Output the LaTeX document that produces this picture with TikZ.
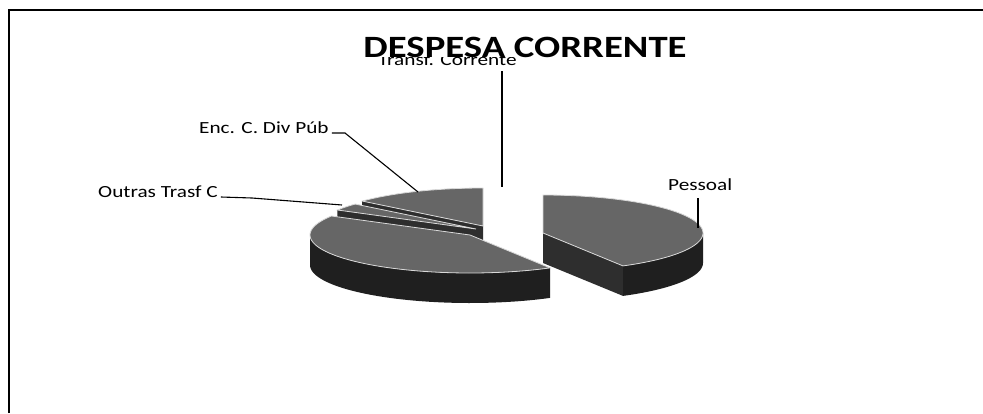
\documentclass[tikz,border=0pt]{standalone}
\usepackage{fontspec}
\setmainfont{Carlito}[FakeStretch=1.25]
\newcommand{\pieRX}{160}
\newcommand{\pieRY}{38}
\newcommand{\pieH}{30}
% top face of a slice: cx, cy, angle from, angle to, style
\newcommand{\slicetop}[5]{%
  \filldraw[#5] (#1,#2) -- plot[domain=#3:#4,samples=60] ({#1+\pieRX*cos(\x)},{#2-\pieRY*sin(\x)}) -- cycle;}
% outer wall of a slice: cx, cy, angle from, angle to, style
\newcommand{\slicewall}[5]{%
  \fill[#5] plot[domain=#3:#4,samples=60] ({#1+\pieRX*cos(\x)},{#2-\pieRY*sin(\x)})
    -- plot[domain=#4:#3,samples=60] ({#1+\pieRX*cos(\x)},{#2-\pieRY*sin(\x)+\pieH}) -- cycle;}
% radial cut face: cx, cy, angle, style
\newcommand{\slicecut}[4]{%
  \fill[#4] (#1,#2) -- ({#1+\pieRX*cos(#3)},{#2-\pieRY*sin(#3)}) -- ++(0,\pieH) -- (#1,{#2+\pieH}) -- cycle;}
\begin{document}
\begin{tikzpicture}[x=1pt,y=-1pt,
  topface/.style={fill=black!60,draw=white!85!black,line width=0.8pt},
  wallface/.style={fill=black!88},
  cutface/.style={fill=black!82},
  leader/.style={draw=black,line width=1.1pt},
  lbl/.style={font=\fontsize{17}{18}\selectfont,inner sep=0pt,text depth=0pt},
  ttl/.style={font=\fontsize{31}{31}\selectfont\bfseries,inner sep=0pt,text depth=0pt,fill=white},
  frameline/.style={draw=black,line width=1.8pt}]
\useasboundingbox (0,0) rectangle (983,413);
\fill[white] (0,0) rectangle (983,413);
% frame (left and top only)
\coordinate (fTL) at (9,10);
\coordinate (fBL) at (9,413);
\coordinate (fTR) at (983,10);
\draw[frameline] (fBL) -- (fTL) -- (fTR);

% Enc. C. Div Pub slice
\slicecut{483}{226}{139}{cutface}
\slicetop{483}{226}{139}{90}{topface}
% Outras Trasf C slice
\slicecut{476}{229}{150}{cutface}
\slicetop{476}{229}{150}{139}{topface}
% Pessoal slice
\slicecut{543}{233}{-60}{cutface}
\slicewall{543}{233}{-60}{0}{wallface}
\slicetop{543}{233}{90}{-60}{topface}
% large slice
\slicewall{470}{235}{180}{300}{wallface}
\slicetop{470}{235}{150}{300}{topface}

% labels
\node[lbl,anchor=base west] (ltransf) at (378,65) {Transf. Corrente};
\node[ttl,anchor=base] (title) at (525,57) {DESPESA CORRENTE};
\node[lbl,anchor=base west] (lenc) at (199,133) {Enc. C. Div Púb};
\node[lbl,anchor=base west] (loutras) at (98,197) {Outras Trasf C};
\node[lbl,anchor=base west] (lpessoal) at (668,190) {Pessoal};

% leader end points
\coordinate (transfA) at (502,71);
\coordinate (transfB) at (502,187);
\coordinate (encA) at (345,133);
\coordinate (encB) at (418,192);
\coordinate (outA) at (252,198);
\coordinate (outB) at (342,205);
\coordinate (pesA) at (698,198);
\coordinate (pesB) at (698,228);

\draw[leader] (transfA) -- (transfB);
\draw[leader] ([xshift=3pt]lenc.base east) -- (encA) -- (encB);
\draw[leader] ([xshift=3pt]loutras.base east) -- (outA) -- (outB);
\draw[leader] (pesA) -- (pesB);
\end{tikzpicture}
\end{document}
